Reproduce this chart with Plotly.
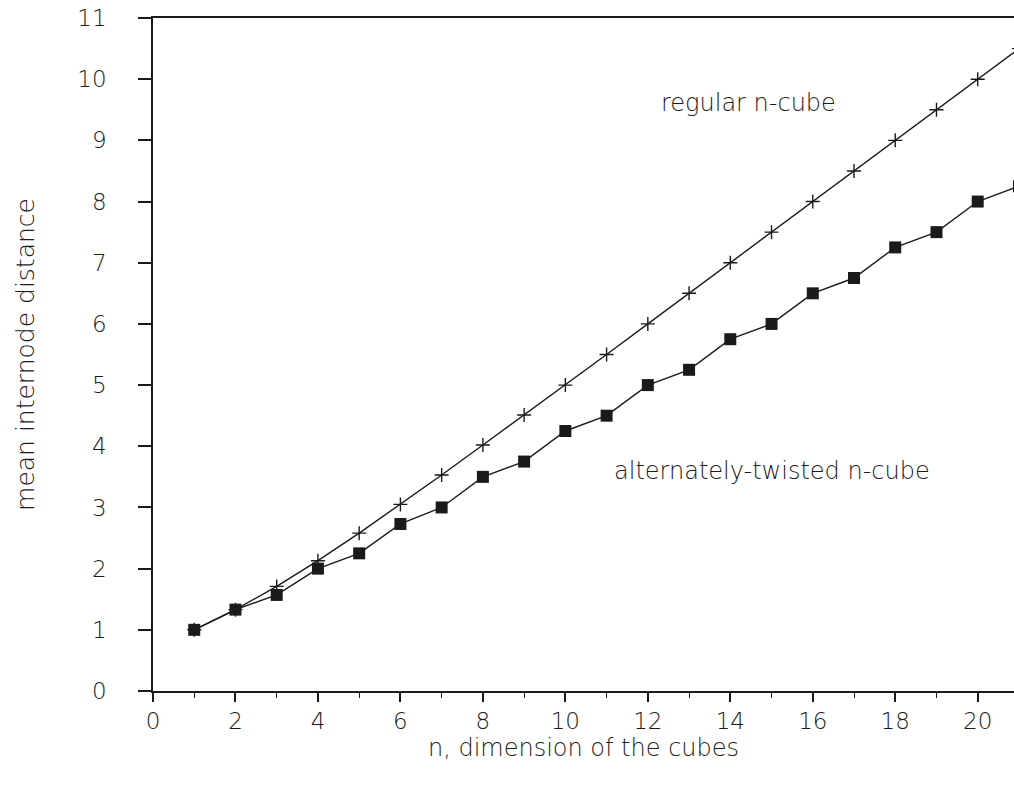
import plotly.graph_objects as go

n_values = list(range(1, 22))
regular = [1.0, 1.33, 1.71, 2.13, 2.58, 3.05, 3.53, 4.02, 4.51, 5.0, 5.5, 6.0, 6.5, 7.0,
           7.5, 8.0, 8.5, 9.0, 9.5, 10.0, 10.5]
twisted = [1.0, 1.33, 1.57, 2.0, 2.25, 2.73, 3.0, 3.5, 3.75, 4.25, 4.5, 5.0, 5.25, 5.75,
           6.0, 6.5, 6.75, 7.25, 7.5, 8.0, 8.25]
x_ticks = list(range(0, 21, 2))
y_ticks = list(range(0, 12))

ink = "#1a1a1a"
text_color = "#1c1c1c"
font_family = "'DejaVu Sans', sans-serif"

fig = go.Figure()
fig.add_trace(go.Scatter(
    x=n_values, y=regular, mode="lines+markers",
    line=dict(color=ink, width=1.4),
    marker=dict(symbol="cross-thin", size=10, line=dict(color=ink, width=1.4)),
    name="regular n-cube", showlegend=False,
))
fig.add_trace(go.Scatter(
    x=n_values, y=twisted, mode="lines+markers",
    line=dict(color=ink, width=1.4),
    marker=dict(symbol="square", size=12, color=ink),
    name="alternately-twisted n-cube", showlegend=False,
))

ann_font = dict(size=24, color=text_color, family=font_family, weight=200)
fig.add_annotation(x=14.43, y=9.61, text="regular n-cube", showarrow=False, font=ann_font)
fig.add_annotation(x=15.0, y=3.6, text="alternately-twisted n-cube", showarrow=False, font=ann_font)

fig.update_layout(
    width=1014, height=790,
    margin=dict(l=153, r=0, t=18, b=99),
    paper_bgcolor="white", plot_bgcolor="white",
    font=dict(family=font_family, color=text_color, weight=200),
)
fig.update_xaxes(
    range=[0, 20.88], tickvals=x_ticks, ticks="outside", ticklen=9, tickwidth=1.5,
    tickcolor=ink, showline=True, linecolor=ink, linewidth=1.5, mirror=True,
    showgrid=False, zeroline=False,
    tickfont=dict(size=23, color=text_color, family=font_family, weight=200),
    minor=dict(dtick=1, tick0=0, ticks="outside", ticklen=5, tickcolor=ink, tickwidth=1.2, showgrid=False),
    title=dict(text="n, dimension of the cubes",
               font=dict(size=24, color=text_color, family=font_family, weight=200), standoff=5),
)
fig.update_yaxes(
    range=[0, 11], tickvals=y_ticks, ticks="outside", ticklen=13, tickwidth=1.5,
    tickcolor=ink, showline=True, linecolor=ink, linewidth=1.5,
    showgrid=False, zeroline=False,
    tickfont=dict(size=23, color=text_color, family=font_family, weight=200),
    ticklabelstandoff=27,
    title=dict(text="mean internode distance",
               font=dict(size=25, color=text_color, family=font_family, weight=200), standoff=36),
)

fig.write_html("out.html")
